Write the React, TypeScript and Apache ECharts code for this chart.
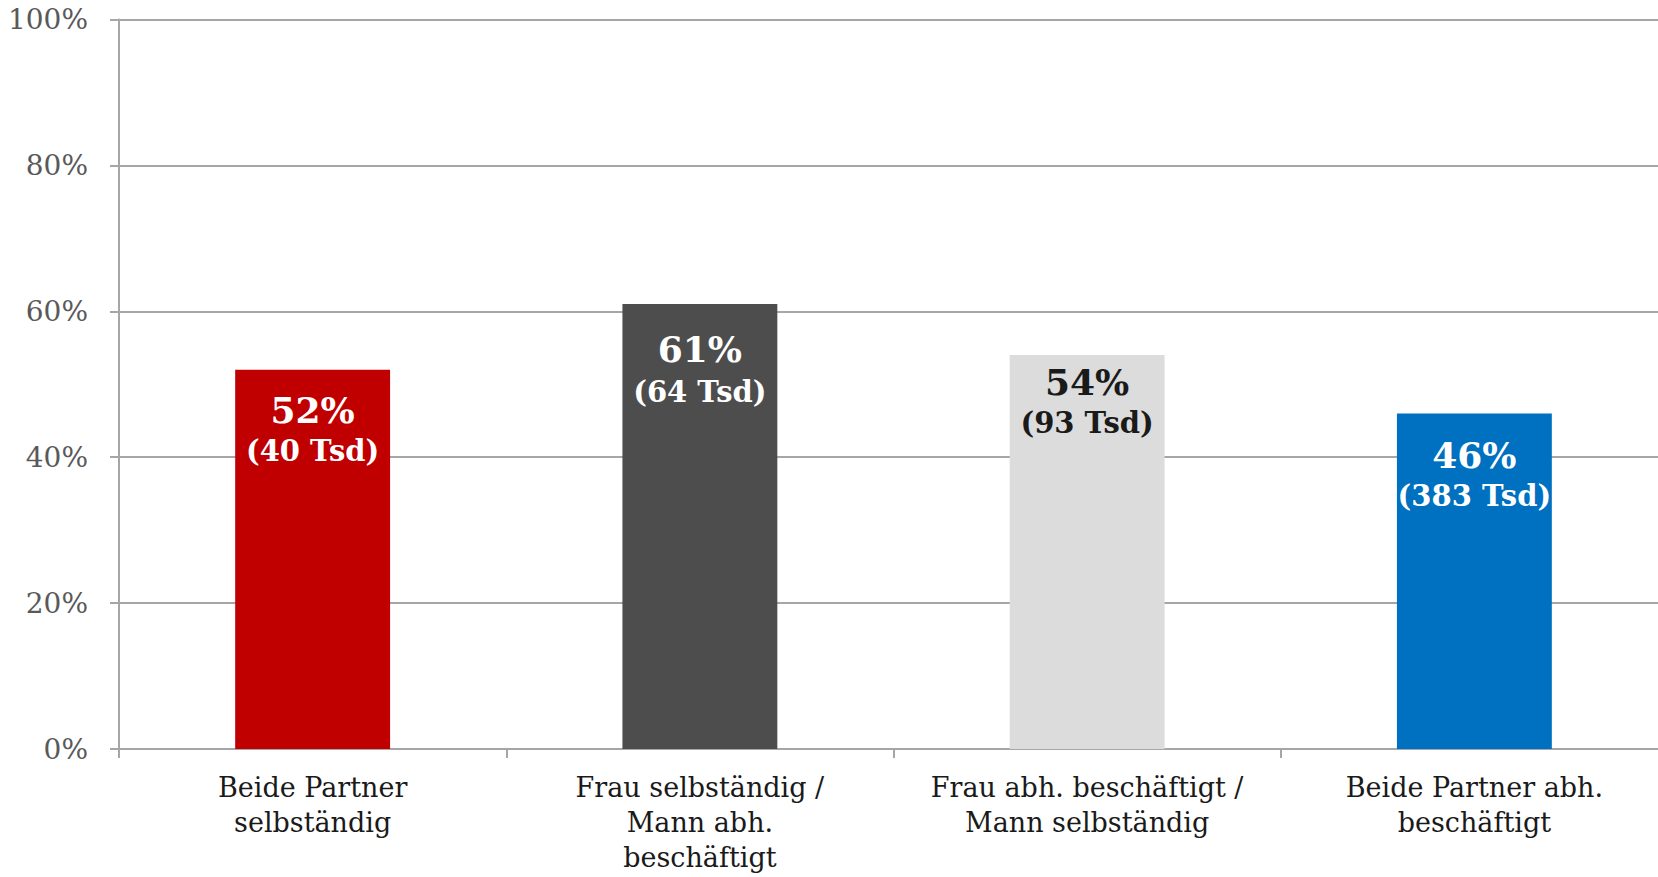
import React, { useEffect, useRef } from "react";
import * as echarts from "echarts";

const categories = [
  "Beide Partner\nselbständig",
  "Frau selbständig /\nMann abh.\nbeschäftigt",
  "Frau abh. beschäftigt /\nMann selbständig",
  "Beide Partner abh.\nbeschäftigt",
];
const shareValues = [52, 61, 54, 46];
const countsTsd = [40, 64, 93, 383];
const yTicks = [0, 20, 40, 60, 80, 100];

const barColors = ["#C00000", "#4D4D4D", "#DCDCDC", "#0070C0"];
const labelColors = ["#FFFFFF", "#FFFFFF", "#1A1A1A", "#FFFFFF"];
const labelOffsets = [18, 23, 5, 20];

const FONT = "Georgia, 'DejaVu Serif', serif";

export default function App() {
  const ref = useRef<HTMLDivElement>(null);
  useEffect(() => {
    if (!ref.current) return;
    const chart = echarts.init(ref.current, null, { renderer: "svg" });
    const data = shareValues.map((v, i) => ({
      value: v,
      itemStyle: { color: barColors[i] },
      label: {
        distance: labelOffsets[i],
        formatter: `{a|${v}%}\n{b|(${countsTsd[i]} Tsd)}`,
        rich: {
          a: { fontFamily: FONT, fontWeight: "bold", fontSize: 36, lineHeight: 44, color: labelColors[i], align: "center" },
          b: { fontFamily: FONT, fontWeight: "bold", fontSize: 29, lineHeight: i === 1 ? 42 : 38, color: labelColors[i], align: "center" },
        },
      },
    }));
    chart.setOption({
      animation: false,
      backgroundColor: "#FFFFFF",
      grid: { left: 119, right: 0, top: 19.5, bottom: 128, containLabel: false },
      xAxis: {
        type: "category",
        data: categories,
        axisLine: { show: true, lineStyle: { color: "#A6A6A6", width: 2 } },
        axisTick: { show: true, length: 9, alignWithLabel: false, lineStyle: { color: "#A6A6A6", width: 2 } },
        axisLabel: {
          fontFamily: FONT,
          fontSize: 27,
          lineHeight: 35,
          color: "#1A1A1A",
          margin: 21,
          interval: 0,
          verticalAlign: "top",
        },
      },
      yAxis: {
        type: "value",
        min: 0,
        max: 100,
        interval: 20,
        axisLine: { show: true, lineStyle: { color: "#A6A6A6", width: 2 } },
        axisTick: { show: true, length: 9, lineStyle: { color: "#A6A6A6", width: 2 } },
        splitLine: { show: true, lineStyle: { color: "#A6A6A6", width: 2 } },
        axisLabel: {
          fontFamily: FONT,
          fontSize: 28,
          color: "#595959",
          margin: 31,
          formatter: (v: number) => (yTicks.includes(v) ? `${v}%` : ""),
        },
      },
      series: [
        {
          type: "bar",
          data,
          barWidth: "40%",
          label: { show: true, position: "insideTop" },
        },
      ],
    });
    return () => chart.dispose();
  }, []);
  return (
    <div
      style={{ position: "absolute", left: 0, top: 0, width: 1658, height: 877, overflow: "hidden" }}
    >
      <div ref={ref} style={{ width: 1668, height: 877 }} />
    </div>
  );
}
